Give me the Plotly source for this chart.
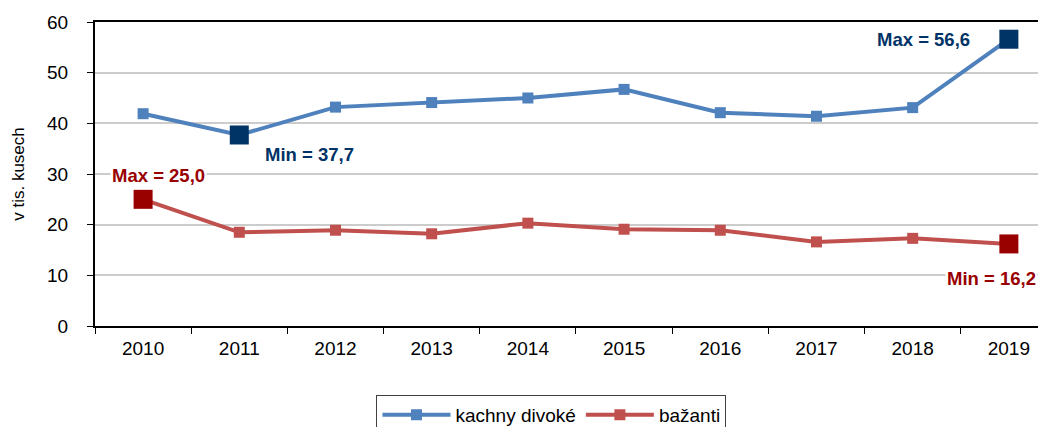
import plotly.graph_objects as go

years = ["2010", "2011", "2012", "2013", "2014", "2015", "2016", "2017", "2018", "2019"]
kachny = [41.9, 37.7, 43.2, 44.1, 45.0, 46.7, 42.1, 41.4, 43.1, 56.6]
bazanti = [25.0, 18.5, 18.9, 18.2, 20.3, 19.1, 18.9, 16.6, 17.3, 16.2]
y_ticks = [0, 10, 20, 30, 40, 50, 60]

BLUE = "#4F81BD"
RED = "#C0504D"
DBLUE = "#003366"
DRED = "#990000"
FONT = "Liberation Sans, Arial, sans-serif"

fig = go.Figure()
fig.add_trace(go.Scatter(x=years, y=kachny, mode="lines+markers", name="kachny divoké",
                         line=dict(color=BLUE, width=4),
                         marker=dict(symbol="square", size=11, color=BLUE)))
fig.add_trace(go.Scatter(x=years, y=bazanti, mode="lines+markers", name="bažanti",
                         line=dict(color=RED, width=4),
                         marker=dict(symbol="square", size=11, color=RED)))


def idx_max(v):
    return max(range(len(v)), key=lambda i: v[i])


def idx_min(v):
    return min(range(len(v)), key=lambda i: v[i])


hk = [idx_min(kachny), idx_max(kachny)]
hb = [idx_max(bazanti), idx_min(bazanti)]
fig.add_trace(go.Scatter(x=[years[i] for i in hk], y=[kachny[i] for i in hk], mode="markers",
                         marker=dict(symbol="square", size=19, color=DBLUE), showlegend=False,
                         hoverinfo="skip"))
fig.add_trace(go.Scatter(x=[years[i] for i in hb], y=[bazanti[i] for i in hb], mode="markers",
                         marker=dict(symbol="square", size=19, color=DRED), showlegend=False,
                         hoverinfo="skip"))


def fmt(v):
    return f"{v:.1f}".replace(".", ",")


def ann_font(c):
    return dict(family=FONT, size=18.5, color=c)


# category axis: annotation x given as category index
i = idx_max(kachny)
fig.add_annotation(x=i, y=kachny[i], text="<b>Max = " + fmt(kachny[i]) + "</b>",
                   showarrow=False, xanchor="right", xshift=-37, yshift=0,
                   font=ann_font(DBLUE), bgcolor="white")
i = idx_min(kachny)
fig.add_annotation(x=i, y=kachny[i], text="<b>Min = " + fmt(kachny[i]) + "</b>",
                   showarrow=False, xanchor="left", xshift=24, yshift=-20,
                   font=ann_font(DBLUE), bgcolor="white")
i = idx_max(bazanti)
fig.add_annotation(x=i, y=bazanti[i], text="<b>Max = " + fmt(bazanti[i]) + "</b>",
                   showarrow=False, xanchor="center", xshift=15, yshift=24,
                   font=ann_font(DRED), bgcolor="white")
i = idx_min(bazanti)
fig.add_annotation(x=i, y=bazanti[i], text="<b>Min = " + fmt(bazanti[i]) + "</b>",
                   showarrow=False, xanchor="center", xshift=-17, yshift=-35,
                   font=ann_font(DRED), bgcolor="white")

H = 419
fig.update_layout(
    width=1038, height=H,
    margin=dict(l=87, r=0, t=14, b=H - 318),
    paper_bgcolor="white", plot_bgcolor="white",
    font=dict(family=FONT, size=19, color="#000000"),
    showlegend=True,
    legend=dict(orientation="h", x=0.48, xanchor="center",
                yref="container", y=(H - 387) / H, yanchor="top",
                bordercolor="#404040", borderwidth=1, font=dict(size=19, color="#000"),
                itemwidth=68),
    xaxis=dict(type="category", range=[-0.5, 9.386], showline=True, linecolor="black",
               linewidth=2, mirror=True, ticks="outside", tickson="boundaries", ticklen=6,
               tickcolor="black", showgrid=False, tickfont=dict(size=19),
               ticklabelstandoff=4),
    yaxis=dict(range=[0, 60], tickvals=y_ticks, showline=True, linecolor="black", linewidth=2,
               ticks="outside", ticklen=6, tickcolor="black", showgrid=True,
               gridcolor="#CCCCCC", gridwidth=1.5, zeroline=False,
               title=dict(text="v tis. kusech", font=dict(size=17), standoff=18),
               tickfont=dict(size=19), ticklabelstandoff=15),
)

fig.write_html("out.html")
